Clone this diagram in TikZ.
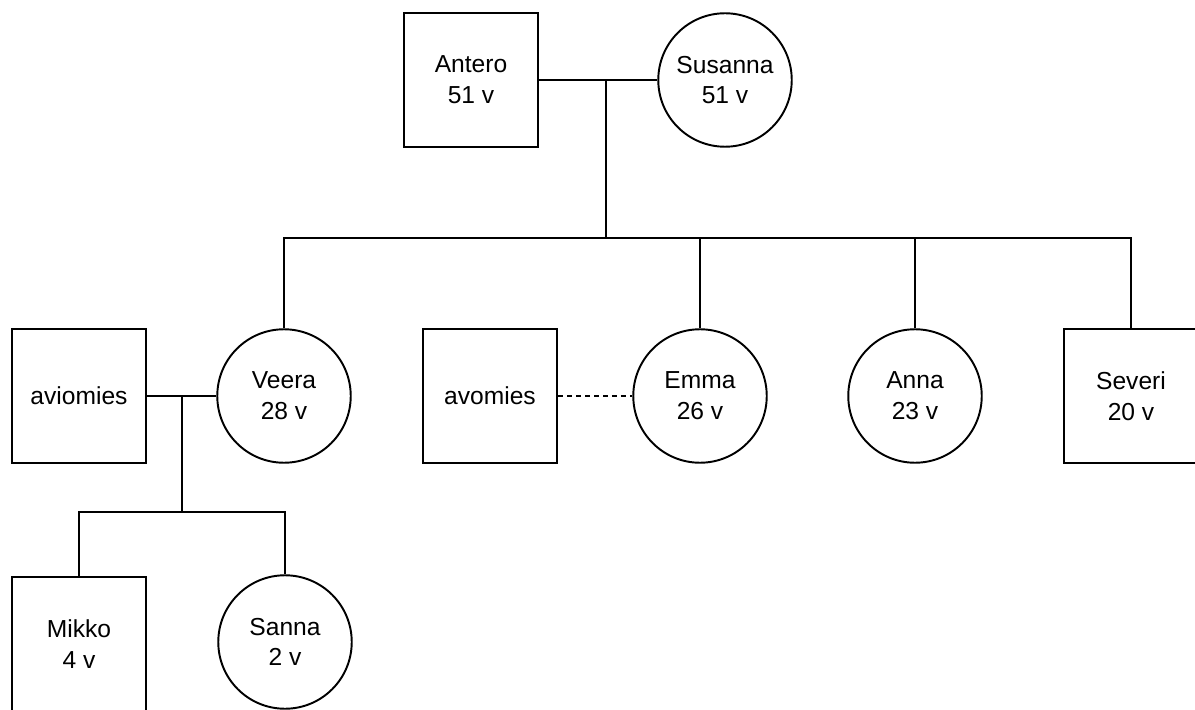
\documentclass[tikz,border=0pt]{standalone}
\usepackage{fontspec}
\setmainfont{Liberation Sans}
\usetikzlibrary{positioning}

\begin{document}
\begin{tikzpicture}[x=0.02cm,y=-0.02cm,
  henkilo/.style={draw=black, line width=1.1pt, align=center, inner sep=0pt,
    font=\fontsize{14}{17.5}\selectfont},
  mies/.style={henkilo, rectangle, minimum size=2.69cm},
  nainen/.style={henkilo, circle, minimum size=2.67cm},
  suhde/.style={draw=black, line width=1.1pt}]
\useasboundingbox (0,0) rectangle (1195,709);
\node[mies] (antero) at (471,80) {Antero\\51 v};
\node[nainen] (susanna) at (725,80) {Susanna\\51 v};
\node[mies] (aviomies) at (79,396) {aviomies};
\node[nainen] (veera) at (284,396) {Veera\\28 v};
\node[mies] (avomies) at (490,396) {avomies};
\node[nainen] (emma) at (700,396) {Emma\\26 v};
\node[nainen] (anna) at (915,396) {Anna\\23 v};
\node[mies] (severi) at (1131,396) {Severi\\20 v};
\node[mies] (mikko) at (79,644) {Mikko\\4 v};
\node[nainen] (sanna) at (285,642) {Sanna\\2 v};
\coordinate (liitto) at (606,80);
\coordinate (lapset) at (606,238);
\coordinate (liitto2) at (182,396);
\coordinate (lapset2) at (182,512);
\draw[suhde] (antero) -- (susanna);
\draw[suhde] (liitto) -- (lapset);
\draw[suhde] (veera.north) |- (lapset) -| (severi.north);
\draw[suhde] (emma.north) -- (emma.north |- lapset);
\draw[suhde] (anna.north) -- (anna.north |- lapset);
\draw[suhde] (aviomies) -- (veera);
\draw[suhde, dash pattern=on 2.8pt off 2.3pt] (avomies) -- (emma);
\draw[suhde] (liitto2) -- (lapset2);
\draw[suhde] (mikko.north) |- (lapset2) -| (sanna.north);
\end{tikzpicture}
\end{document}
